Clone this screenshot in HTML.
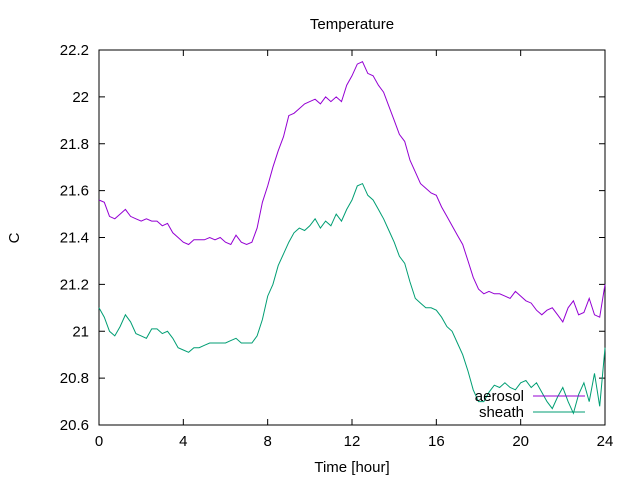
<!DOCTYPE html>
<html><head><meta charset="utf-8"><style>
body{margin:0;background:#fff}
svg{display:block;font-family:"Liberation Sans",sans-serif;font-size:15px}
</style></head><body>
<svg id="chart" width="640" height="480" viewBox="0 0 640 480" xmlns="http://www.w3.org/2000/svg">
<text x="352" y="29" text-anchor="middle">Temperature</text>
<text x="19" y="238" text-anchor="middle" transform="rotate(-90 19 238)">C</text>
<text x="352" y="472" text-anchor="middle">Time [hour]</text>
<g id="axes"></g>
<g id="series"></g>
<g>
<text x="524" y="401" text-anchor="end">aerosol</text>
<line x1="533" y1="396" x2="585" y2="396" stroke="#9400d3" stroke-width="1"/>
<text x="524" y="417" text-anchor="end">sheath</text>
<line x1="533" y1="412" x2="585" y2="412" stroke="#009e73" stroke-width="1"/>
</g>
</svg>
<script>
const xTicks=[0,4,8,12,16,20,24];
const yTicks=[20.6,20.8,21,21.2,21.4,21.6,21.8,22,22.2];
const yTickLabels=["20.6","20.8","21","21.2","21.4","21.6","21.8","22","22.2"];
const hours=[];for(let i=0;i<=96;i++)hours.push(i/4);
const aerosol=[21.56,21.55,21.49,21.48,21.50,21.52,21.49,21.48,21.47,21.48,21.47,21.47,21.45,21.46,21.42,21.40,21.38,21.37,21.39,21.39,21.39,21.40,21.39,21.40,21.38,21.37,21.41,21.38,21.37,21.38,21.44,21.55,21.62,21.70,21.77,21.83,21.92,21.93,21.95,21.97,21.98,21.99,21.97,22.00,21.98,22.00,21.98,22.05,22.09,22.14,22.15,22.10,22.09,22.05,22.02,21.96,21.90,21.84,21.81,21.73,21.68,21.63,21.61,21.59,21.58,21.53,21.49,21.45,21.41,21.37,21.30,21.23,21.18,21.16,21.17,21.16,21.16,21.15,21.14,21.17,21.15,21.13,21.12,21.09,21.07,21.09,21.10,21.07,21.04,21.10,21.13,21.07,21.08,21.14,21.07,21.06,21.20];
const sheath=[21.10,21.06,21.00,20.98,21.02,21.07,21.04,20.99,20.98,20.97,21.01,21.01,20.99,21.00,20.97,20.93,20.92,20.91,20.93,20.93,20.94,20.95,20.95,20.95,20.95,20.96,20.97,20.95,20.95,20.95,20.98,21.05,21.15,21.20,21.28,21.33,21.38,21.42,21.44,21.43,21.45,21.48,21.44,21.47,21.45,21.50,21.47,21.52,21.56,21.62,21.63,21.58,21.56,21.52,21.48,21.43,21.38,21.32,21.29,21.21,21.14,21.12,21.10,21.10,21.09,21.06,21.02,21.00,20.95,20.90,20.83,20.75,20.70,20.70,20.74,20.77,20.76,20.78,20.76,20.75,20.78,20.79,20.76,20.78,20.74,20.70,20.67,20.72,20.76,20.70,20.65,20.73,20.78,20.70,20.82,20.68,20.93];
const X0=99,X1=605,Y0=425,Y1=50;
const xs=h=>X0+(h-0)/24*(X1-X0);
const ys=v=>Y0-(v-20.6)/1.6*(Y0-Y1);
const NS="http://www.w3.org/2000/svg";
const axes=document.getElementById('axes');
function mk(tag,attrs,parent){const e=document.createElementNS(NS,tag);for(const k in attrs)e.setAttribute(k,attrs[k]);parent.appendChild(e);return e;}
const frame=mk('rect',{x:X0,y:Y1,width:X1-X0,height:Y0-Y1,fill:'none',stroke:'#000','stroke-width':1},axes);


xTicks.forEach(t=>{
  const x=xs(t);
  const l1=mk('line',{x1:x,y1:Y0,x2:x,y2:Y0-6,stroke:'#000'},axes);
  
  
  const l2=mk('line',{x1:x,y1:Y1,x2:x,y2:Y1+6,stroke:'#000'},axes);
  
  
  const tx=mk('text',{x:x,y:Y0+21,'text-anchor':'middle'},axes);tx.textContent=String(t);
  
  
});
yTicks.forEach((t,i)=>{
  const y=ys(t);
  const l1=mk('line',{x1:X0,y1:y,x2:X0+6,y2:y,stroke:'#000'},axes);
  
  
  const l2=mk('line',{x1:X1,y1:y,x2:X1-6,y2:y,stroke:'#000'},axes);
  
  
  const tx=mk('text',{x:X0-10,y:y+5,'text-anchor':'end'},axes);tx.textContent=yTickLabels[i];
  
  
});
const ser=document.getElementById('series');
function line(vals,color,name){
  const d=vals.map((v,i)=>(i?'L':'M')+xs(hours[i]).toFixed(1)+' '+ys(v).toFixed(1)).join(' ');
  const p=mk('path',{d:d,fill:'none',stroke:color,'stroke-width':1},ser);
  
  
}
line(aerosol,'#9400d3','aerosol-line');
line(sheath,'#009e73','sheath-line');
</script>
</body></html>
